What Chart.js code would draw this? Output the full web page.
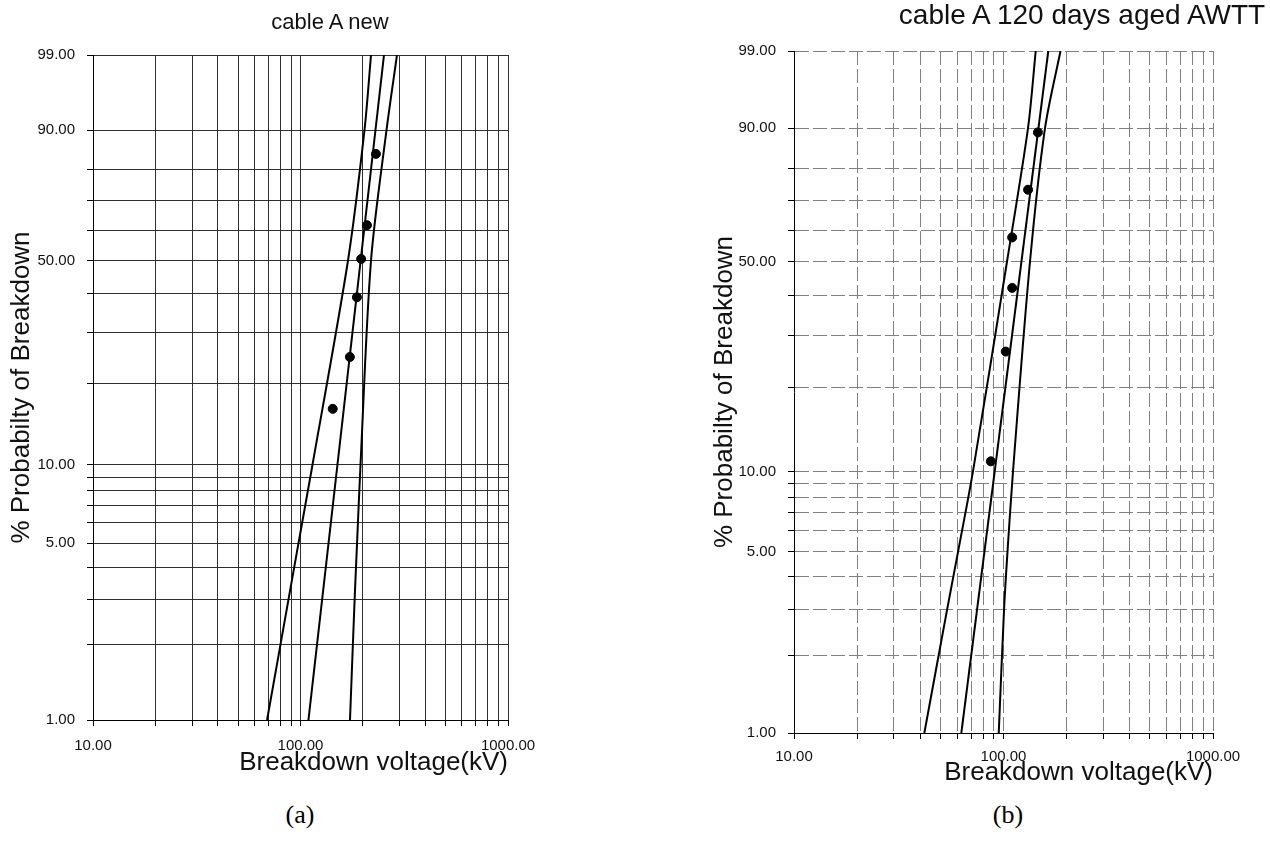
<!DOCTYPE html>
<html>
<head>
<meta charset="utf-8">
<title>Weibull plots - cable A breakdown voltage</title>
<script src="https://cdn.jsdelivr.net/npm/chart.js@4.4.1/dist/chart.umd.min.js"></script>
<style>
    body { margin: 0; background: #fff; width: 1270px; height: 841px; position: relative; overflow: hidden;
           font-family: "Liberation Sans", Arial, sans-serif; color: #111; }
    .panel { position: absolute; top: 0; height: 800px; }
    #panelA { left: 0; width: 635px; }
    #panelB { left: 690px; width: 580px; }
    .title { position: absolute; white-space: nowrap; transform: translate(-50%, -50%); line-height: 1; }
    .caption { position: absolute; top: 815px; transform: translate(-50%, -50%); line-height: 1;
               font-family: "Liberation Serif", "Times New Roman", serif; font-size: 26px; color: #000; }
</style>
</head>
<body>
<div class="panel" id="panelA"><canvas id="chartA" width="635" height="800"></canvas></div>
<div class="panel" id="panelB"><canvas id="chartB" width="580" height="800"></canvas></div>

<div class="title" style="left:330px; top:22px; font-size:22px;">cable A new</div>
<div class="title" style="left:1082px; top:15px; font-size:28px;">cable A 120 days aged AWTT</div>
<div class="caption" style="left:300px;">(a)</div>
<div class="caption" style="left:1008px;">(b)</div>

<script>
// Axis grids of the Weibull probability paper
const Y_GRID = [1, 2, 3, 4, 5, 6, 7, 8, 9, 10, 20, 30, 40, 50, 60, 70, 80, 90, 99];
const Y_LABELS = [1, 5, 10, 50, 90, 99];
const X_GRID = [10, 20, 30, 40, 50, 60, 70, 80, 90, 100, 200, 300, 400, 500, 600, 700, 800, 900, 1000];
const X_LABELS = [10, 100, 1000];

// (a) cable A new - measured breakdowns
const A_POINTS_KV = [143, 173, 187, 196, 209, 231];
const A_POINTS_PCT = [16.2, 24.8, 39.0, 50.5, 61.7, 84.3];
// (a) fitted line and confidence bounds, read at these probabilities
const A_LINE_PCT = [1, 3, 5, 10, 50, 90, 99];
const A_LOWER_KV = [69.0, 87.5, 97.8, 114.2, 169.4, 203.4, 218.7];
const A_UPPER_KV = [173.2, 182.3, 187.3, 194.6, 218.7, 259.7, 291.7];
const A_FIT_PCT = [1, 99];
const A_FIT_KV = [109.2, 252.6];

// (b) cable A after 120 days AWTT ageing
const B_POINTS_KV = [87, 102.5, 110, 110, 131, 146];
const B_POINTS_PCT = [10.9, 26.6, 42.2, 57.8, 73.4, 89.1];
const B_LINE_PCT = [1, 3, 5, 10, 50, 90, 99];
const B_LOWER_KV = [41.9, 53.8, 60.7, 71.5, 103.9, 130.9, 142.5];
const B_UPPER_KV = [94.9, 100.6, 104.5, 111.0, 133.8, 157.8, 187.1];
const B_FIT_PCT = [1, 99];
const B_FIT_KV = [62.9, 163.6];

const FONT = '"Liberation Sans", Arial, sans-serif';

// Weibull transform used by the probability axis
const weibull = p => Math.log(-Math.log(1 - p / 100));

// Custom Chart.js scale: percent values placed on ln(-ln(1-F))
class WeibullScale extends Chart.Scale {
    static id = 'weibull';
    static defaults = {};

    determineDataLimits() {
        this.min = this.options.min;
        this.max = this.options.max;
    }
    buildTicks() {
        return Y_GRID.map(v => ({ value: v }));
    }
    configure() {
        super.configure();
        this._wStart = weibull(this.min);
        this._wRange = weibull(this.max) - this._wStart;
    }
    getPixelForValue(value) {
        return this.getPixelForDecimal((weibull(value) - this._wStart) / this._wRange);
    }
    getValueForPixel(pixel) {
        const w = this._wStart + this.getDecimalForPixel(pixel) * this._wRange;
        return 100 * (1 - Math.exp(-Math.exp(w)));
    }
}
Chart.register(WeibullScale);

// helper: zip two arrays into {x, y} points
function toPoints(xs, ys) {
    return xs.map((x, i) => ({ x: x, y: ys[i] }));
}

function lineSet(xs, ys, tension) {
    return {
        data: toPoints(xs, ys),
        showLine: true,
        borderColor: '#000',
        borderWidth: 2,
        pointRadius: 0,
        tension: tension
    };
}

// Build one probability plot panel
function makePanel(canvasId, p) {
    const ctx = document.getElementById(canvasId).getContext('2d');
    return new Chart(ctx, {
        type: 'scatter',
        data: {
            datasets: [
                {
                    data: toPoints(p.pointsKv, p.pointsPct),
                    backgroundColor: '#000',
                    borderColor: '#000',
                    pointRadius: 4.5,
                    pointHoverRadius: 4.5
                },
                lineSet(p.lowerKv, p.linePct, 0.3),
                lineSet(p.fitKv, p.fitPct, 0),
                lineSet(p.upperKv, p.linePct, 0.3)
            ]
        },
        options: {
            responsive: false,
            animation: false,
            devicePixelRatio: 1,
            layout: { padding: { left: 0, top: p.top, right: p.right, bottom: 0 } },
            plugins: { legend: { display: false }, tooltip: { enabled: false } },
            scales: {
                x: {
                    type: 'logarithmic',
                    min: 10,
                    max: 1000,
                    afterBuildTicks: s => { s.ticks = X_GRID.map(v => ({ value: v })); },
                    afterFit: s => { s.height = p.xAxisHeight; },
                    grid: { color: p.gridColor, lineWidth: 1, tickLength: 6, tickColor: '#000' },
                    border: { display: true, color: '#000', width: 1, dash: p.gridDash },
                    ticks: {
                        autoSkip: false,
                        maxRotation: 0,
                        padding: p.xTickPad,
                        color: '#111',
                        font: { family: FONT, size: 15 },
                        callback: v => X_LABELS.includes(v) ? v.toFixed(2) : ''
                    },
                    title: {
                        display: true,
                        text: 'Breakdown voltage(kV)',
                        align: 'end',
                        color: '#111',
                        padding: { top: 0, bottom: p.xTitlePad },
                        font: { family: FONT, size: 26 }
                    }
                },
                y: {
                    type: 'weibull',
                    min: 1,
                    max: 99,
                    afterFit: s => { s.width = p.yAxisWidth; },
                    grid: { color: p.gridColor, lineWidth: 1, tickLength: 6, tickColor: '#000' },
                    border: { display: true, color: '#000', width: 1, dash: p.gridDash },
                    ticks: {
                        autoSkip: false,
                        padding: 12,
                        color: '#111',
                        font: { family: FONT, size: 15 },
                        callback: v => Y_LABELS.includes(v) ? v.toFixed(2) : ''
                    },
                    title: {
                        display: true,
                        text: '% Probabilty of Breakdown',
                        color: '#111',
                        padding: { top: p.yTitlePad, bottom: 0 },
                        font: { family: FONT, size: 26 }
                    }
                }
            }
        }
    });
}

document.addEventListener('DOMContentLoaded', () => {
    // (a) plot area: x 93..508, y 55..720
    makePanel('chartA', {
        pointsKv: A_POINTS_KV, pointsPct: A_POINTS_PCT,
        linePct: A_LINE_PCT, lowerKv: A_LOWER_KV, upperKv: A_UPPER_KV,
        fitPct: A_FIT_PCT, fitKv: A_FIT_KV,
        top: 55, right: 127, yAxisWidth: 93, xAxisHeight: 80,
        xTickPad: 11, xTitlePad: 21.4, yTitlePad: 6.4,
        gridColor: '#2e2e2e', gridDash: []
    });
    // (b) plot area: x 794..1213, y 51..733
    makePanel('chartB', {
        pointsKv: B_POINTS_KV, pointsPct: B_POINTS_PCT,
        linePct: B_LINE_PCT, lowerKv: B_LOWER_KV, upperKv: B_UPPER_KV,
        fitPct: B_FIT_PCT, fitKv: B_FIT_KV,
        top: 51, right: 57, yAxisWidth: 104, xAxisHeight: 67,
        xTickPad: 9, xTitlePad: 11.4, yTitlePad: 19.4,
        gridColor: '#808080', gridDash: [14, 4]
    });
});
</script>
</body>
</html>
